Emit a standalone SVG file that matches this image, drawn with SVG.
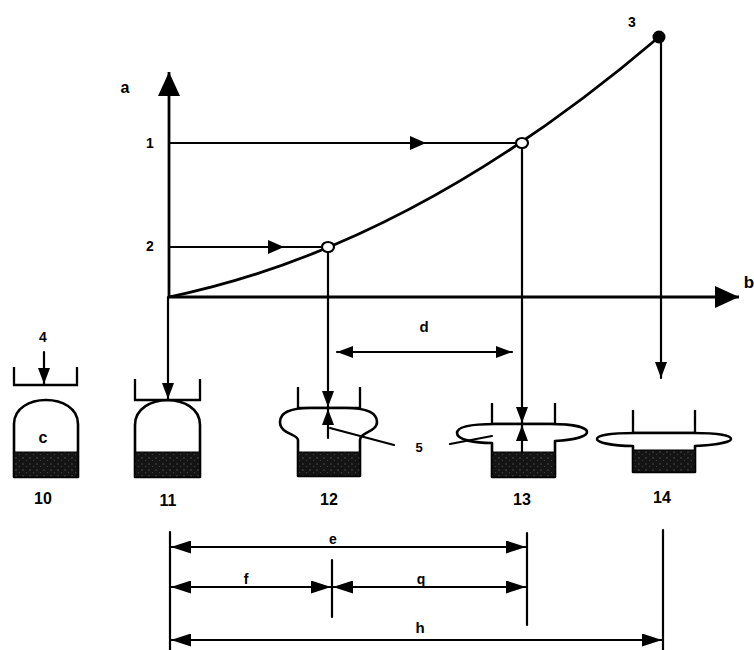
<svg xmlns="http://www.w3.org/2000/svg" width="754" height="650" viewBox="0 0 754 650">
  <style>
    .ln { fill: none; stroke: #000; stroke-width: 2.2; stroke-linecap: round; }
    .ax { fill: none; stroke: #000; stroke-width: 2.8; }
    .body { fill: #fff; stroke: #000; stroke-width: 2.6; stroke-linejoin: round; }
    .cup { fill: none; stroke: #000; stroke-width: 2.3; }
    .mass { fill: url(#grain); stroke: #000; stroke-width: 1; }
    .lbl { font-family: "Liberation Sans", Arial, sans-serif; font-weight: bold; fill: #000; text-anchor: middle; }
    .num { font-size: 16px; }
    .sm { font-size: 14px; }
  </style>
  <defs>
    <marker id="head" viewBox="0 0 16 12" refX="16" refY="6" markerWidth="16" markerHeight="12" markerUnits="userSpaceOnUse" orient="auto-start-reverse">
      <path d="M0,0 L16,6 L0,12 Z" fill="#000"/>
    </marker>
    <marker id="dimhead" viewBox="0 0 20 13" refX="20" refY="6.5" markerWidth="20" markerHeight="13" markerUnits="userSpaceOnUse" orient="auto-start-reverse">
      <path d="M0,0 L20,6.5 L0,13 Z" fill="#000"/>
    </marker>
    <marker id="axhead" viewBox="0 0 24 22" refX="24" refY="11" markerWidth="24" markerHeight="22" markerUnits="userSpaceOnUse" orient="auto">
      <path d="M0,0 L24,11 L0,22 Z" fill="#000"/>
    </marker>
    <marker id="midhead" viewBox="0 0 16 14" refX="8" refY="7" markerWidth="16" markerHeight="14" markerUnits="userSpaceOnUse" orient="auto">
      <path d="M0,0 L16,7 L0,14 Z" fill="#000"/>
    </marker>
    <pattern id="grain" width="7" height="6" patternUnits="userSpaceOnUse">
      <rect width="7" height="6" fill="#141414"/>
      <circle cx="2" cy="2" r="0.7" fill="#5a5a5a"/>
      <circle cx="5.5" cy="4.5" r="0.6" fill="#4a4a4a"/>
    </pattern>
  </defs>

  <!-- stage 10 -->
  <g id="stage-10">
    <path class="cup" d="M14,367 V385 H77 V367"/>
    <path class="body" d="M14,477 V424 C14,392 78,392 78,424 V477 Z"/>
    <rect class="mass" x="14" y="452" width="64" height="25"/>
  </g>
  <!-- stage 11 -->
  <g id="stage-11">
    <path class="cup" d="M135,379 V400 H200 V379"/>
    <path class="body" d="M135,477 V425 C135,392 200,392 200,425 V477 Z"/>
    <rect class="mass" x="135" y="452" width="65" height="25"/>
  </g>
  <!-- stage 12 -->
  <g id="stage-12">
    <path class="cup" d="M298,387 V408 H360 V387"/>
    <path class="body" d="M298,476 V440 C298,434 280,434 280,422 C280,412 292,408 310,408 H346 C364,408 377,412 377,422 C377,432 360,432 360,440 V476 Z"/>
    <rect class="mass" x="298" y="452" width="62" height="24"/>
  </g>
  <!-- stage 13 -->
  <g id="stage-13">
    <path class="cup" d="M492,403 V424 H555 V403"/>
    <path class="body" d="M492,477 V443 C475,443 457,440 457,433 C457,426 475,424 495,424 H550 C572,424 587,427 587,432 C587,437 572,440 555,441 V477 Z"/>
    <rect class="mass" x="492" y="452" width="63" height="25"/>
  </g>
  <!-- stage 14 -->
  <g id="stage-14">
    <path class="cup" d="M633,410 V433 H695 V410"/>
    <path class="body" d="M633,472 V446 C610,446 597,442 597,439 C597,435 612,433 635,433 H693 C716,433 731,435 731,439 C731,442 716,445 695,446 V472 Z"/>
    <rect class="mass" x="633" y="450" width="62" height="22"/>
  </g>

  <!-- chart: axes, curve, projection lines and dimensions -->
  <g id="connectors">
    <path class="ax" d="M169,298 V72" marker-end="url(#axhead)"/>
    <path class="ax" d="M168,297 H739" marker-end="url(#axhead)"/>
    <path class="ax" d="M169,297 Q413.5,246.7 659,37"/>
    <path class="ln" d="M169,143 L418,143 L516,143" marker-mid="url(#midhead)"/>
    <path class="ln" d="M169,247 L276,247 L322,247" marker-mid="url(#midhead)"/>
    <path class="ln" d="M328,252 V407" marker-end="url(#head)"/>
    <path class="ln" d="M522,148 V423" marker-end="url(#head)"/>
    <path class="ln" d="M661,40 V378" marker-end="url(#head)"/>
    <path class="ln" d="M168,297 V399" marker-end="url(#head)"/>
    <path class="ln" d="M44,352 V384" marker-end="url(#head)"/>
    <path class="ln" d="M328,438 V409" marker-end="url(#head)"/>
    <path class="ln" d="M522,452 V425" marker-end="url(#head)"/>
    <path class="ln" d="M337,352 H512" marker-start="url(#head)" marker-end="url(#head)"/>
    <!-- leaders for label 5 -->
    <path class="ln" d="M330,428 L394,445"/>
    <path class="ln" d="M450,444 L492,436"/>
    <!-- dimension lines -->
    <path class="ln" d="M170,532 V650"/>
    <path class="ln" d="M527,533 V625"/>
    <path class="ln" d="M663,530 V650"/>
    <path class="ln" d="M332,560 V617"/>
    <path class="ln" d="M171,547 H526" marker-start="url(#dimhead)" marker-end="url(#dimhead)"/>
    <path class="ln" d="M171,587 H331" marker-start="url(#dimhead)" marker-end="url(#dimhead)"/>
    <path class="ln" d="M333,587 H526" marker-start="url(#dimhead)" marker-end="url(#dimhead)"/>
    <path class="ln" d="M171,640 H662" marker-start="url(#dimhead)" marker-end="url(#dimhead)"/>
  </g>

  <!-- points on the curve -->
  <g id="point-2"><ellipse cx="328" cy="247" rx="6" ry="5" fill="#fff" stroke="#000" stroke-width="2.2"/></g>
  <g id="point-1"><ellipse cx="522" cy="143" rx="6" ry="5" fill="#fff" stroke="#000" stroke-width="2.2"/></g>
  <g id="point-3"><circle cx="659" cy="37" r="6.5" fill="#000"/></g>

  <!-- labels -->
  <g id="labels">
    <text class="lbl" x="125" y="93" font-size="16">a</text>
    <text class="lbl" x="749" y="288" font-size="17">b</text>
    <text class="lbl sm" x="150" y="148">1</text>
    <text class="lbl sm" x="150" y="251">2</text>
    <text class="lbl sm" x="632" y="27">3</text>
    <text class="lbl sm" x="43" y="342">4</text>
    <text class="lbl" x="419" y="452" font-size="13">5</text>
    <text class="lbl" x="43" y="443" font-size="16">c</text>
    <text class="lbl" x="424" y="332" font-size="15">d</text>
    <text class="lbl sm" x="333" y="544">e</text>
    <text class="lbl sm" x="246" y="584">f</text>
    <text class="lbl sm" x="421" y="584">q</text>
    <text class="lbl" x="420" y="633" font-size="15">h</text>
    <text class="lbl num" x="43" y="504">10</text>
    <text class="lbl num" x="168" y="506">11</text>
    <text class="lbl num" x="329" y="505">12</text>
    <text class="lbl num" x="522" y="505">13</text>
    <text class="lbl num" x="662" y="503">14</text>
  </g>
</svg>
